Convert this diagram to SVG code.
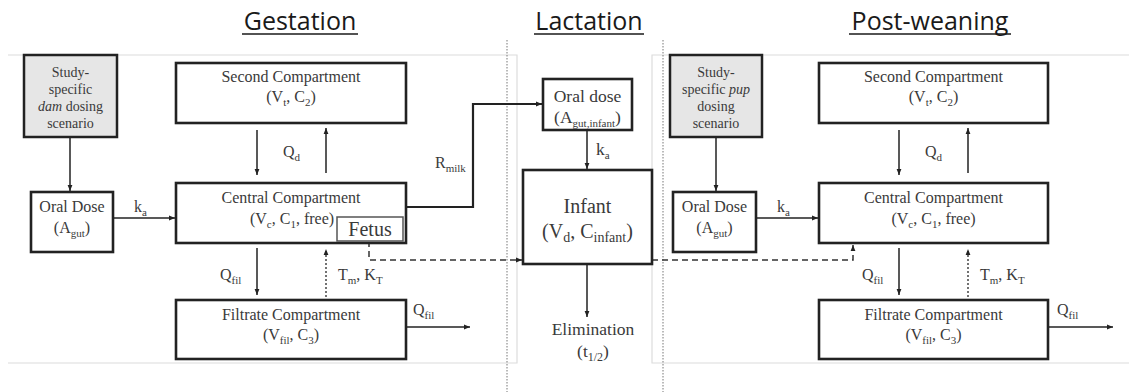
<svg xmlns="http://www.w3.org/2000/svg" width="1129" height="392" viewBox="0 0 1129 392">
<style>
.title{font-family:"Open Sans","Liberation Sans",sans-serif;font-size:25px;fill:#1a1a1a;text-anchor:middle}
.t,.s,.lab{font-family:'Liberation Serif','Times New Roman',Times,'DejaVu Serif',serif;fill:#3a3a3a}
.t{font-size:16px;text-anchor:middle}
.s{font-size:14px;text-anchor:middle}
.lab{font-size:16px}
.big{font-size:20px}
.mid{font-size:17.5px}
.box{fill:#fff;stroke:#222;stroke-width:2.6}
.dose{fill:#e6e6e6;stroke:#222;stroke-width:2.5}
.ln{stroke:#222;stroke-width:1.5;fill:none}
.thick{stroke:#222;stroke-width:2.2;fill:none}
.dash{stroke:#333;stroke-width:1.5;fill:none;stroke-dasharray:6,4}
.dot{stroke:#444;stroke-width:1.5;fill:none;stroke-dasharray:2,2}
.sep{stroke:#777;stroke-width:1;stroke-dasharray:1.5,1.5;fill:none}
.panel{stroke:#dcdcdc;stroke-width:1.2;fill:none}
.ul{stroke:#1a1a1a;stroke-width:1.5}
</style>
<defs>
<marker id="ah" viewBox="0 0 10 10" refX="10" refY="5" markerWidth="6" markerHeight="6" orient="auto" markerUnits="userSpaceOnUse">
<path d="M0,1 L10,5 L0,9 z" fill="#222"/>
</marker>
</defs>

<g id="background">
<path class="panel" d="M8,55 H517 V363 H8"/>
<path class="panel" d="M1129,55 H652 V363 H1129"/>
<line class="sep" x1="507" y1="40" x2="507" y2="392"/>
<line class="sep" x1="663" y1="40" x2="663" y2="392"/>
</g>

<g id="titles">
<text class="title" x="300" y="30">Gestation</text>
<line class="ul" x1="242" y1="34" x2="358" y2="34"/>
<text class="title" x="589" y="30">Lactation</text>
<line class="ul" x1="534" y1="34" x2="644" y2="34"/>
<text class="title" x="930" y="30">Post-weaning</text>
<line class="ul" x1="849" y1="34" x2="1011" y2="34"/>
</g>

<g id="connectors">
<line class="ln" x1="70" y1="137" x2="70" y2="191" marker-end="url(#ah)"/>
<line class="ln" x1="113" y1="218" x2="175" y2="218" marker-end="url(#ah)"/>
<line class="ln" x1="257" y1="130" x2="257" y2="175" marker-end="url(#ah)"/>
<line class="ln" x1="326" y1="173" x2="326" y2="128" marker-end="url(#ah)"/>
<line class="ln" x1="257" y1="248" x2="257" y2="295" marker-end="url(#ah)"/>
<line class="dot" x1="326" y1="297" x2="326" y2="249" marker-end="url(#ah)"/>
<line class="ln" x1="406" y1="327" x2="470" y2="327" marker-end="url(#ah)"/>
<path class="thick" d="M406,207 H473 V104 H542" marker-end="url(#ah)"/>
<path class="dash" d="M369,241 V260 H522" marker-end="url(#ah)"/>
<line class="ln" x1="587" y1="130" x2="587" y2="169" marker-end="url(#ah)"/>
<line class="ln" x1="587" y1="264" x2="587" y2="317" marker-end="url(#ah)"/>
<path class="dash" d="M652,260 H853 V245" marker-end="url(#ah)"/>
<line class="ln" x1="716" y1="137" x2="716" y2="191" marker-end="url(#ah)"/>
<line class="ln" x1="756" y1="218" x2="818" y2="218" marker-end="url(#ah)"/>
<line class="ln" x1="899" y1="130" x2="899" y2="175" marker-end="url(#ah)"/>
<line class="ln" x1="968" y1="173" x2="968" y2="128" marker-end="url(#ah)"/>
<line class="ln" x1="899" y1="248" x2="899" y2="295" marker-end="url(#ah)"/>
<line class="dot" x1="968" y1="297" x2="968" y2="249" marker-end="url(#ah)"/>
<line class="ln" x1="1048" y1="327" x2="1113" y2="327" marker-end="url(#ah)"/>
</g>

<g id="connector-labels">
<text class="lab" x="134" y="212">k<tspan font-size="11" dy="4">a</tspan></text>
<text class="lab" x="283" y="157">Q<tspan font-size="11" dy="4">d</tspan></text>
<text class="lab" x="220" y="280">Q<tspan font-size="11" dy="4">fil</tspan></text>
<text class="lab" x="338" y="280">T<tspan font-size="11" dy="4">m</tspan><tspan dy="-4">, K</tspan><tspan font-size="11" dy="4">T</tspan></text>
<text class="lab" x="413" y="315">Q<tspan font-size="11" dy="4">fil</tspan></text>
<text class="lab" x="435" y="168">R<tspan font-size="11" dy="4">milk</tspan></text>
<text class="lab mid" x="596" y="155">k<tspan font-size="11" dy="4">a</tspan></text>
<text class="lab" x="777" y="212">k<tspan font-size="11" dy="4">a</tspan></text>
<text class="lab" x="862" y="280">Q<tspan font-size="11" dy="4">fil</tspan></text>
<text class="lab" x="925" y="157">Q<tspan font-size="11" dy="4">d</tspan></text>
<text class="lab" x="980" y="280">T<tspan font-size="11" dy="4">m</tspan><tspan dy="-4">, K</tspan><tspan font-size="11" dy="4">T</tspan></text>
<text class="lab" x="1057" y="315">Q<tspan font-size="11" dy="4">fil</tspan></text>
</g>

<g id="dam-dosing">
<rect class="dose" x="24" y="55" width="93" height="82"/>
<text class="s" x="70.5" y="77">Study-</text>
<text class="s" x="70.5" y="94">specific</text>
<text class="s" x="70.5" y="111"><tspan font-style="italic">dam</tspan> dosing</text>
<text class="s" x="70.5" y="128">scenario</text>
</g>

<g id="oral-dose-dam">
<rect class="box" x="31" y="192" width="82" height="60"/>
<text class="t" x="72" y="212">Oral Dose</text>
<text class="t" x="72" y="233">(A<tspan font-size="11" dy="4">gut</tspan><tspan dy="-4">)</tspan></text>
</g>

<g id="second-compartment-dam">
<rect class="box" x="176" y="63" width="230" height="60"/>
<text class="t" x="291" y="82">Second Compartment</text>
<text class="t" x="291" y="102">(V<tspan font-size="11" dy="4">t</tspan><tspan dy="-4">, C</tspan><tspan font-size="11" dy="4">2</tspan><tspan dy="-4">)</tspan></text>
</g>

<g id="central-compartment-dam">
<rect class="box" x="176" y="183" width="230" height="60"/>
<text class="t" x="291" y="203">Central Compartment</text>
<text class="t" x="292" y="224">(V<tspan font-size="11" dy="4">c</tspan><tspan dy="-4">, C</tspan><tspan font-size="11" dy="4">1</tspan><tspan dy="-4">, free)</tspan></text>
</g>

<g id="fetus">
<rect x="337" y="217" width="66" height="24" fill="#fff" stroke="#555" stroke-width="1.5"/>
<text class="t big" x="370" y="236">Fetus</text>
</g>

<g id="filtrate-compartment-dam">
<rect class="box" x="176" y="300" width="230" height="59"/>
<text class="t" x="291" y="320">Filtrate Compartment</text>
<text class="t" x="291" y="340">(V<tspan font-size="11" dy="4">fil</tspan><tspan dy="-4">, C</tspan><tspan font-size="11" dy="4">3</tspan><tspan dy="-4">)</tspan></text>
</g>

<g id="oral-dose-infant">
<rect class="box" x="543" y="79" width="89" height="51"/>
<text class="t mid" x="587.5" y="102">Oral dose</text>
<text class="t mid" x="587.5" y="123">(A<tspan font-size="11" dy="4">gut,infant</tspan><tspan dy="-4">)</tspan></text>
</g>

<g id="infant">
<rect class="box" x="523" y="170" width="129" height="94"/>
<text class="t big" x="587.5" y="213">Infant</text>
<text class="t big" x="587.5" y="238">(V<tspan font-size="14" dy="4">d</tspan><tspan dy="-4">, C</tspan><tspan font-size="14" dy="4">infant</tspan><tspan dy="-4">)</tspan></text>
</g>

<g id="elimination">
<text class="t mid" x="593" y="335">Elimination</text>
<text class="t mid" x="593" y="357">(t<tspan font-size="12" dy="4">1/2</tspan><tspan dy="-4">)</tspan></text>
</g>

<g id="pup-dosing">
<rect class="dose" x="670" y="55" width="92" height="82"/>
<text class="s" x="716" y="77">Study-</text>
<text class="s" x="716" y="94">specific <tspan font-style="italic">pup</tspan></text>
<text class="s" x="716" y="111">dosing</text>
<text class="s" x="716" y="128">scenario</text>
</g>

<g id="oral-dose-pup">
<rect class="box" x="673" y="192" width="83" height="60"/>
<text class="t" x="714.5" y="212">Oral Dose</text>
<text class="t" x="714.5" y="233">(A<tspan font-size="11" dy="4">gut</tspan><tspan dy="-4">)</tspan></text>
</g>

<g id="second-compartment-pup">
<rect class="box" x="819" y="63" width="229" height="60"/>
<text class="t" x="933.5" y="82">Second Compartment</text>
<text class="t" x="933.5" y="102">(V<tspan font-size="11" dy="4">t</tspan><tspan dy="-4">, C</tspan><tspan font-size="11" dy="4">2</tspan><tspan dy="-4">)</tspan></text>
</g>

<g id="central-compartment-pup">
<rect class="box" x="819" y="183" width="229" height="60"/>
<text class="t" x="933.5" y="203">Central Compartment</text>
<text class="t" x="933.5" y="224">(V<tspan font-size="11" dy="4">c</tspan><tspan dy="-4">, C</tspan><tspan font-size="11" dy="4">1</tspan><tspan dy="-4">, free)</tspan></text>
</g>

<g id="filtrate-compartment-pup">
<rect class="box" x="819" y="300" width="229" height="59"/>
<text class="t" x="933.5" y="320">Filtrate Compartment</text>
<text class="t" x="933.5" y="340">(V<tspan font-size="11" dy="4">fil</tspan><tspan dy="-4">, C</tspan><tspan font-size="11" dy="4">3</tspan><tspan dy="-4">)</tspan></text>
</g>
</svg>
